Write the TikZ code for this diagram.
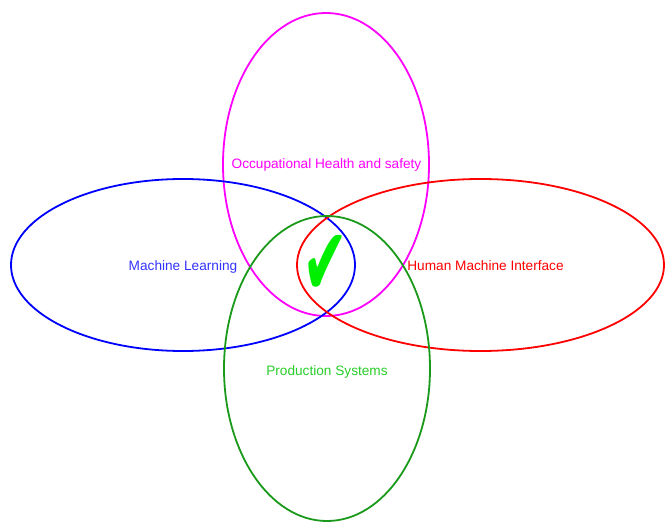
\documentclass[tikz,border=0pt]{standalone}
\usepackage{fontspec}
\setmainfont{Liberation Sans}
\newfontfamily\symbolfont{DejaVu Sans}
\usetikzlibrary{shapes.geometric}

\begin{document}
\begin{tikzpicture}[x=1bp, y=-1bp, font=\fontsize{13.7}{15}\selectfont,
    field/.style={draw, ellipse, line width=1.8bp, inner sep=0pt},
    fieldname/.style={inner sep=0pt, anchor=base}]

    % Define colors
    \definecolor{healthcolor}{RGB}{255,0,255}
    \colorlet{learncolor}{blue}
    \colorlet{learntext}{blue!80!white}
    \colorlet{hmicolor}{red}
    \definecolor{prodcolor}{RGB}{26,153,26}
    \definecolor{prodtext}{RGB}{40,205,40}
    \definecolor{tickcolor}{RGB}{0,238,0}

    \useasboundingbox (0,0) rectangle (665,523);

    % 1. The four fields
    \node[field, draw=healthcolor, minimum width=206bp, minimum height=303bp] (health) at (326,164.5) {};
    \node[field, draw=learncolor, minimum width=344bp, minimum height=172bp] (learning) at (183,265) {};
    \node[field, draw=hmicolor, minimum width=367bp, minimum height=172bp] (hmi) at (480.5,265) {};
    \node[field, draw=prodcolor, minimum width=206bp, minimum height=305bp] (production) at (327,368.5) {};

    % 2. Field names
    \node[fieldname, text=healthcolor] (healthname) at (326.5,168.5) {Occupational Health and safety};
    \node[fieldname, text=learntext] (learningname) at (183,270.5) {Machine Learning};
    \node[fieldname, text=hmicolor] (hminame) at (485.5,270.5) {Human Machine Interface};
    \node[fieldname, text=prodtext] (productionname) at (327,375.5) {Production Systems};

    % 3. The common ground
    \node[text=tickcolor, font=\symbolfont\fontsize{58}{60}\selectfont, inner sep=0pt]
        (tick) at (325,265) {\scalebox{0.95}[1.65]{✔}};

\end{tikzpicture}
\end{document}
